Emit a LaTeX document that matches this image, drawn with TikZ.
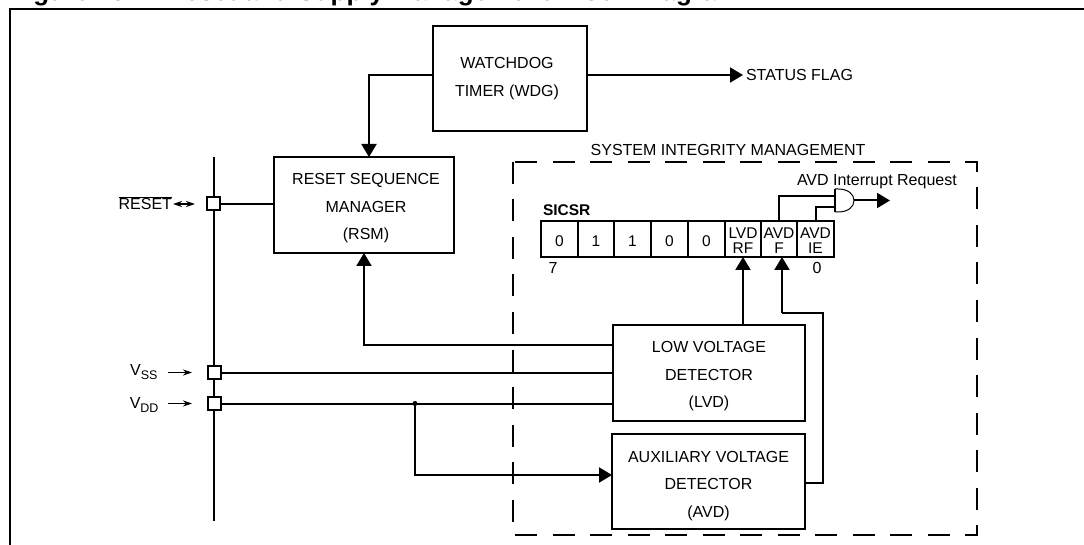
\documentclass[tikz,border=0pt]{standalone}
\usepackage{fontspec}
\setmainfont{Liberation Sans}
\usetikzlibrary{arrows.meta}
\newcommand{\lowidx}[1]{\raisebox{-4pt}{\fontsize{12.5}{14}\selectfont #1}}
\newcommand{\topgap}[1]{\rule{0pt}{#1}}
\tikzset{
	blockbox/.style={draw,line width=2pt,inner sep=0pt,outer sep=0pt,align=center,font=\fontsize{16}{27.5}\selectfont},
	regcell/.style={draw,line width=2pt,inner sep=0pt,outer sep=0pt,minimum width=36.7pt,minimum height=36pt,align=center,font=\fontsize{15.5}{15}\selectfont},
	pinbox/.style={draw,line width=2pt,fill=white,inner sep=0pt,outer sep=0pt,minimum width=12.5pt,minimum height=13pt},
	txt/.style={inner sep=0pt,outer sep=0pt,font=\fontsize{16}{18}\selectfont},
	wire/.style={line width=2pt},
	headwire/.style={line width=2pt,-{Triangle[length=13pt,width=15pt]}},
	pinarrow/.style={line width=1.5pt,-{Stealth[length=9pt,width=6pt]}},
}
\begin{document}
\begin{tikzpicture}[x=1pt,y=-1pt]
	\useasboundingbox (0,0) rectangle (1084,545);
	\node[anchor=base west,inner sep=0pt,font=\bfseries\fontsize{26}{28}\selectfont] (title) at (10,0.5) {Figure 19.\hspace{0.9em} Reset and Supply Management Block Diagram};
	\draw[line width=2pt] (10,545)--(10,9)--(1084,9);

	\draw[line width=2pt,dash pattern=on 22pt off 15.5pt] (513,162) rectangle (977,535);
	\node[txt] (sysname) at (728,150) {SYSTEM INTEGRITY MANAGEMENT};

	\node[blockbox,minimum width=154pt,minimum height=105pt] (wdg) at (510,78.5) {WATCHDOG\hspace*{6pt}\\TIMER (WDG)\hspace*{6pt}};
	\node[blockbox,minimum width=180pt,minimum height=96pt] (rsm) at (364,205) {\topgap{18pt}\hspace*{4pt}RESET SEQUENCE\\\hspace*{4pt}MANAGER\\\hspace*{4pt}(RSM)};
	\node[blockbox,minimum width=192pt,minimum height=96pt] (lvd) at (709,373) {\topgap{18pt}LOW VOLTAGE\\DETECTOR\\(LVD)};
	\node[blockbox,minimum width=193pt,minimum height=95pt] (avd) at (708.5,481.5) {\topgap{20pt}AUXILIARY VOLTAGE\\DETECTOR\\(AVD)};

	\coordinate (bustop) at (214,157);
	\coordinate (busbot) at (214,521);
	\draw[wire] (bustop)--(busbot);
	\node[pinbox] (pinrst) at (213.5,204) {};
	\node[pinbox] (pinvss) at (214.5,372.5) {};
	\node[pinbox] (pinvdd) at (214.5,403.5) {};

	\node[txt,anchor=east] (rstname) at (172,203) {$\overline{\mbox{RESET}}$};
	\node[txt,anchor=base east] (vssname) at (157.5,375) {V\lowidx{SS}};
	\node[txt,anchor=base east] (vddname) at (158.5,408) {V\lowidx{DD}};
	\node[txt,anchor=west] (flagname) at (746,75) {STATUS FLAG};

	\node[regcell] (bit7) at (559.5,239) {\topgap{15pt}0};
	\node[regcell] (bit6) at (596,239) {\topgap{15pt}1};
	\node[regcell] (bit5) at (632.5,239) {\topgap{15pt}1};
	\node[regcell] (bit4) at (669.5,239) {\topgap{15pt}0};
	\node[regcell] (bit3) at (706.5,239) {\topgap{15pt}0};
	\node[regcell] (lvdrf) at (743,239) {\topgap{15pt}LVD\\RF};
	\node[regcell] (avdf) at (779,239) {\topgap{15pt}AVD\\F};
	\node[regcell] (avdie) at (815.5,239) {\topgap{15pt}AVD\\IE};
	\node[txt,anchor=base west,font=\bfseries\fontsize{15.5}{18}\selectfont] (sicsr) at (543,215.5) {SICSR};
	\node[txt] (low) at (553,268) {7};
	\node[txt] (high) at (817,268) {0};
	\node[txt,anchor=west] (reqname) at (797,182) {AVD Interrupt Request};

	\coordinate (gatetop) at (835,189);
	\coordinate (gatebot) at (835,212);
	\coordinate (gatein1) at (835,196);
	\coordinate (gatein2) at (835,207);
	\coordinate (gateout) at (854,200.5);
	\coordinate (reqend) at (890,200.5);
	\draw[wire] (gatetop)--(gatebot);
	\draw[line width=1pt] (gatetop)--(838,189) .. controls (848,189) and (854,194) .. (gateout) .. controls (854,207) and (848,212) .. (838,212)--(gatebot);
	\draw[wire] (avdf.north)|-(gatein1);
	\draw[wire] (avdie.north)|-(gatein2);
	\draw[headwire] (gateout)--(reqend);

	\coordinate (flagend) at (743,75);
	\draw[headwire] (wdg.east|-flagend)--(flagend);
	\coordinate (rsmin) at (369,75);
	\draw[headwire] (wdg.west|-flagend)--(rsmin)--(rsmin|-rsm.north);

	\draw[wire] (pinrst)--(rsm.west|-pinrst);
	\draw[wire] (pinvss)--(lvd.west|-pinvss);
	\draw[wire] (pinvdd)--(lvd.west|-pinvdd);
	\node[circle,fill,inner sep=0pt,minimum size=5pt] (vddtap) at (415,403.5) {};
	\draw[headwire] (vddtap.center)|-(avd.west|-0,475);
	\coordinate (rsmtap) at (364,345);
	\draw[headwire] (lvd.west|-rsmtap)--(rsmtap)--(rsm.south-|rsmtap);
	\draw[headwire] (lvdrf.south|-lvd.north)--(lvdrf.south);
	\coordinate (avdturn) at (823,483);
	\coordinate (avdturn2) at (823,313);
	\coordinate (avdtop) at (782,313);
	\draw[wire] (avd.east|-avdturn)--(avdturn)--(avdturn2)--(avdtop);
	\draw[headwire] (avdtop)--(avdtop|-avdf.south);

	\coordinate (rstarrow) at (195,204);
	\draw[line width=1.5pt,{Stealth[length=9pt,width=6pt]}-{Stealth[length=9pt,width=6pt]}] (173,204)--(rstarrow);
	\draw[pinarrow] (168,372.5)--(192,372.5);
	\draw[pinarrow] (168,403.5)--(192,403.5);
\end{tikzpicture}
\end{document}
